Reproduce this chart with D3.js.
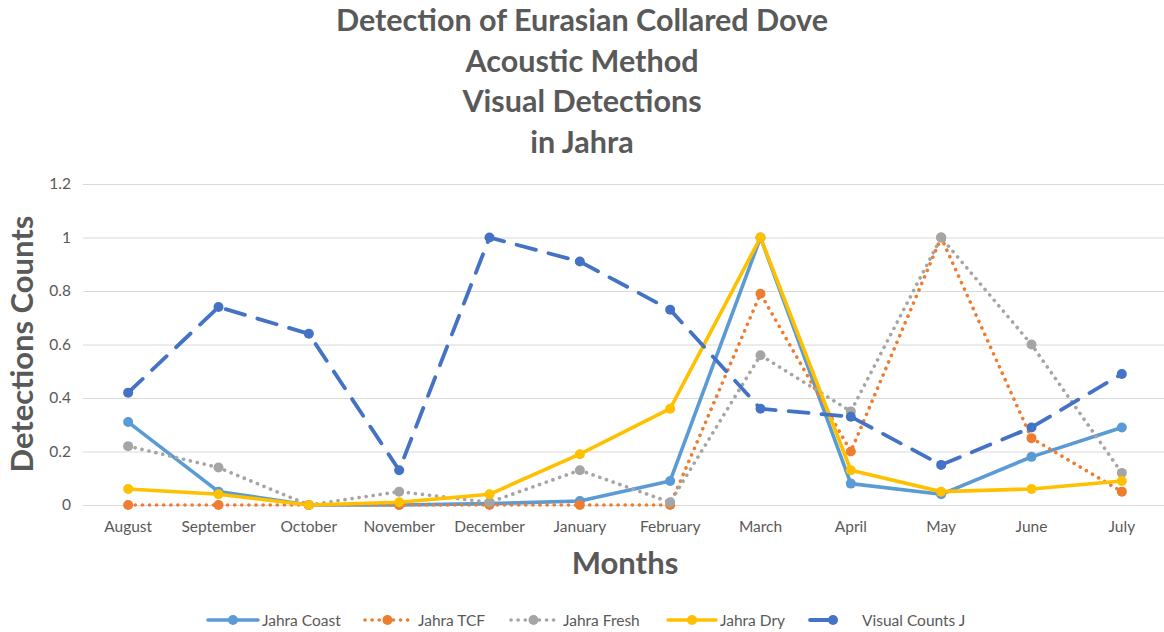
<!DOCTYPE html>
<html>
<head>
<meta charset="utf-8">
<script src="https://cdn.jsdelivr.net/npm/d3@7"></script>
<style>
  html, body { margin: 0; padding: 0; background: #fff; }
  svg { display: block; font-family: Lato, "Open Sans", sans-serif; }
</style>
</head>
<body>
<svg id="chart" width="1164" height="632"></svg>
<script>
// Months along the x axis
const months = ["August", "September", "October", "November", "December", "January",
                "February", "March", "April", "May", "June", "July"];

// Detection counts per month, one array per series
const jahraCoast   = [0.31, 0.05, 0, 0, 0.005, 0.015, 0.09, 1, 0.08, 0.04, 0.18, 0.29];
const jahraTCF     = [0, 0, 0, 0, 0, 0, 0, 0.79, 0.20, 1, 0.25, 0.05];
const jahraFresh   = [0.22, 0.14, 0, 0.05, 0.01, 0.13, 0.01, 0.56, 0.35, 1, 0.60, 0.12];
const jahraDry     = [0.06, 0.04, 0, 0.01, 0.04, 0.19, 0.36, 1, 0.13, 0.05, 0.06, 0.09];
const visualCounts = [0.42, 0.74, 0.64, 0.13, 1, 0.91, 0.73, 0.36, 0.33, 0.15, 0.29, 0.49];

const yTicks = [0, 0.2, 0.4, 0.6, 0.8, 1, 1.2];

const titleLines = ["Detection of Eurasian Collared Dove", "Acoustic Method", "Visual Detections", "in Jahra"];

const series = [
  { name: "Jahra Coast",     values: jahraCoast,   color: "#5B9BD5", style: "solid" },
  { name: "Jahra TCF",       values: jahraTCF,     color: "#ED7D31", style: "dot" },
  { name: "Jahra Fresh",     values: jahraFresh,   color: "#A5A5A5", style: "dot" },
  { name: "Jahra Dry",       values: jahraDry,     color: "#FFC000", style: "solid" },
  { name: "Visual Counts J", values: visualCounts, color: "#4472C4", style: "dash" }
];

const svg = d3.select("#chart");
const textColor = "#595959";

const x = d3.scaleBand().domain(months).range([83, 1167]);
const y = d3.scaleLinear().domain([0, 1.2]).range([505, 184]);
const cx = m => x(m) + x.bandwidth() / 2;

// Title
svg.append("g").selectAll("text").data(titleLines).join("text")
  .attr("x", 582)
  .attr("y", (d, i) => 31 + i * 40.7)
  .attr("text-anchor", "middle")
  .attr("font-size", 30.5)
  .attr("font-weight", "bold")
  .attr("fill", textColor)
  .text(d => d);

// Horizontal gridlines
const grid = d3.axisLeft(y).tickValues(yTicks).tickSize(-(1167 - 83)).tickFormat("");
svg.append("g").attr("transform", "translate(83,0)").call(grid)
  .call(g => g.select(".domain").remove())
  .call(g => g.selectAll("line").attr("stroke", "#D9D9D9").attr("stroke-width", 1.2));

// Y axis tick labels
const yAxis = d3.axisLeft(y).tickValues(yTicks).tickSize(0).tickPadding(12).tickFormat(d3.format("~g"));
svg.append("g").attr("transform", "translate(83,0)").call(yAxis)
  .call(g => g.select(".domain").remove())
  .call(g => g.selectAll("text").attr("font-size", 15.5).attr("fill", textColor).attr("font-family", "Lato, sans-serif"));

// X axis tick labels
const xAxis = d3.axisBottom(x).tickSize(0).tickPadding(16);
svg.append("g").attr("transform", "translate(0,505)").call(xAxis)
  .call(g => g.select(".domain").remove())
  .call(g => g.selectAll("text").attr("font-size", 15.5).attr("fill", textColor).attr("font-family", "Lato, sans-serif"));

// Axis titles
svg.append("text")
  .attr("transform", "translate(33,344) rotate(-90)")
  .attr("text-anchor", "middle")
  .attr("font-size", 31)
  .attr("font-weight", "bold")
  .attr("fill", textColor)
  .text("Detections Counts");

svg.append("text")
  .attr("x", 625).attr("y", 574)
  .attr("text-anchor", "middle")
  .attr("font-size", 31)
  .attr("font-weight", "bold")
  .attr("fill", textColor)
  .text("Months");

function strokeStyle(sel, s) {
  sel.attr("stroke", s.color).attr("fill", "none");
  if (s.style === "solid") {
    sel.attr("stroke-width", 3.6).attr("stroke-linejoin", "round").attr("stroke-linecap", "round");
  } else if (s.style === "dot") {
    sel.attr("stroke-width", 3.6).attr("stroke-dasharray", "0.1,7").attr("stroke-linecap", "round");
  } else {
    sel.attr("stroke-width", 3.8).attr("stroke-dasharray", "20,13").attr("stroke-linecap", "round");
  }
}

const line = d3.line().x((d, i) => cx(months[i])).y(d => y(d));

// Lines and markers
const plot = svg.append("g");
series.forEach(s => {
  plot.append("path").datum(s.values).attr("d", line).call(strokeStyle, s);
});
series.forEach(s => {
  plot.append("g").selectAll("circle").data(s.values).join("circle")
    .attr("cx", (d, i) => cx(months[i]))
    .attr("cy", d => y(d))
    .attr("r", 5)
    .attr("fill", s.color);
});

// Legend
const legendItems = [
  { x0: 208, x1: 258, tx: 262 },
  { x0: 365, x1: 410, tx: 418 },
  { x0: 511, x1: 556, tx: 563 },
  { x0: 668, x1: 716, tx: 720 },
  { x0: 810, x1: 838, tx: 862 }
];
const legend = svg.append("g");
series.forEach((s, i) => {
  const it = legendItems[i];
  const g = legend.append("g");
  g.append("line").attr("x1", it.x0).attr("x2", it.x1).attr("y1", 620).attr("y2", 620).call(strokeStyle, s);
  g.append("circle").attr("cx", s.style === "dash" ? 833 : (it.x0 + it.x1) / 2).attr("cy", 620).attr("r", 5).attr("fill", s.color);
  g.append("text").attr("x", it.tx).attr("y", 625.5).attr("font-size", 15.5).attr("fill", textColor)
    .attr("font-family", "Lato, sans-serif").text(s.name);
});
</script>
</body>
</html>
